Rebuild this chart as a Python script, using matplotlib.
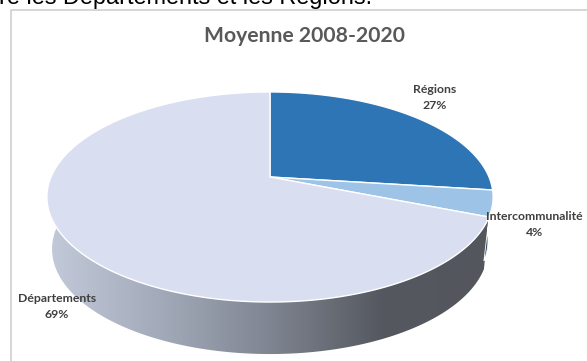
import numpy as np
import matplotlib
matplotlib.use('Agg')
import matplotlib.pyplot as plt
from matplotlib.colors import LinearSegmentedColormap
from matplotlib.patches import Polygon

# Shares per level of local government, clockwise from 12 o'clock
labels = ['Régions', 'Intercommunalité', 'Départements']
shares = [27, 4, 69]
colors = ['#2e75b6', '#9dc3e6', '#d9dff0']

# Pie geometry on the page, in pixels
cx_pix, cy_pix = 270, 177
amp_x, amp_y, persp = 219, 67.5, 0.1905
depth = 52
narrow = 0.977  # lower rim is a bit narrower than the top face


def project(frac):
    # perspective view of a flat disc, frac is the share of a full turn
    t = 2 * np.pi * np.asarray(frac)
    u, v = np.sin(t), np.cos(t)
    w = 1 + persp * v
    return cx_pix + amp_x * u / w, (cy_pix - amp_y * v) / w


def wall_outline(frac, drop):
    # top rim followed by the lower rim going back
    px, py = project(frac)
    low_x = cx_pix + (px - cx_pix) * narrow
    return np.r_[px, low_x[::-1]], np.r_[py, py[::-1] + drop]


fig = plt.figure(figsize=(5.87, 3.61), dpi=100)
ax = fig.add_axes([0, 0, 1, 1])
ax.set_xlim(0, 587)
ax.set_ylim(361, 0)
ax.axis('off')

# Frame of the chart, only top and left are visible
ax.plot([587, 10.5, 10.5], [9.5, 9.5, 361], color='#d0d0d0', lw=1.2)

ax.text(-1, 4, 're les Départements et les Régions.', family='Liberation Sans',
        fontsize=16.9, color='black', va='baseline', ha='left')

ax.text(304, 36, 'Moyenne 2008-2020', family='Lato', weight='bold', fontsize=15.2,
        color='#595959', ha='center', va='center')

edges = np.cumsum([0] + shares) / sum(shares)

# Side wall of the Départements slice, shaded from left to right
fr = np.linspace(edges[2], 0.75 + np.arcsin(persp) / (2 * np.pi), 200)
wx, wy = wall_outline(fr, depth)
cmap = LinearSegmentedColormap.from_list('wall', ['#c3cad9', '#a3abba', '#7f8591', '#55585f', '#53565c'])
grad = ax.imshow(np.linspace(0, 1, 256)[None, :], cmap=cmap, extent=[47, 493, 361, 0],
                 aspect='auto', zorder=1)
grad.set_clip_path(Polygon(np.column_stack([wx, wy]), transform=ax.transData))
ax.set_xlim(0, 587)
ax.set_ylim(361, 0)

# Thin wall under the Intercommunalité slice
fr = np.linspace(edges[1], edges[2], 40)
wx, wy = wall_outline(fr, depth * 0.84)
ax.fill(wx, wy, color='#3c4f66', ec='white', lw=0.6, zorder=1.5)

# Top faces
for i in range(len(shares)):
    fr = np.linspace(edges[i], edges[i + 1], 300)
    px, py = project(fr)
    ax.fill(np.r_[cx_pix, px], np.r_[cy_pix, py], color=colors[i], ec='white', lw=1.0, zorder=2)

# Value labels
label_pos = [(435, 97.5), (534.5, 224.5), (57, 306.5)]
for name, val, (lx, ly) in zip(labels, shares, label_pos):
    ax.text(lx, ly, f'{name}\n{val}%', family='Lato', weight='bold', fontsize=8.8,
            color='#404040', ha='center', va='center', linespacing=1.6, zorder=3)

fig.savefig('out.png', dpi=100)
